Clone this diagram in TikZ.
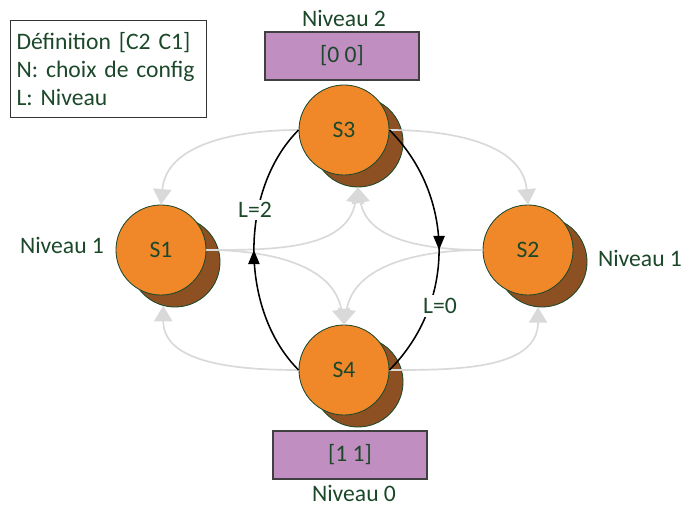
\documentclass[tikz,border=0pt]{standalone}
\usepackage{fontspec}
\setmainfont{Carlito}
\usetikzlibrary{arrows.meta,decorations.markings}
\definecolor{txtgreen}{RGB}{28,72,42}
\definecolor{stateorange}{RGB}{240,136,42}
\definecolor{statebrown}{RGB}{140,80,35}
\definecolor{boxpurple}{RGB}{192,142,192}
\definecolor{arrowgray}{RGB}{217,217,217}
\tikzset{
  lbl/.style={text=txtgreen, font=\fontsize{16.8}{20}\selectfont},
  state/.style={circle, draw=txtgreen, line width=0.6pt, fill=stateorange, minimum size=2.25cm, inner sep=0pt, lbl},
  stateshadow/.style={circle, draw=txtgreen, line width=0.6pt, fill=statebrown, minimum size=2.25cm, inner sep=0pt},
  levelbox/.style={draw=black!75, line width=0.9pt, fill=boxpurple, minimum width=3.85cm, minimum height=1.2cm, lbl},
  grayarrow/.style={draw=arrowgray, line width=1.2pt, -{Triangle[width=13pt,length=11pt]}},
  levelarrow/.style={black, line width=1.1pt, postaction={decorate},
    decoration={markings, mark=at position 0.5 with {\arrow{Triangle[width=8pt,length=10pt]}}}},
}
\begin{document}
\begin{tikzpicture}[x=0.025cm, y=0.025cm]
\useasboundingbox (0,0) rectangle (681,505);
% Legend
\node[lbl, draw=black!80, line width=0.8pt, anchor=north west, align=left, text width=4.6cm,
  inner xsep=0.15cm, minimum height=2.425cm] (legend) at (10,485)
  {Définition [C2 C1]\\N: choix de config\\L: Niveau};
% Level boxes
\node[levelbox] (top) at (342,449) {[0 0]};
\node[lbl] (lvl2) at (344,487) {Niveau 2};
\node[levelbox] (bottom) at (350,50) {[1 1]};
\node[lbl] (lvl0) at (354,12) {Niveau 0};
% States with their shadows
\node[stateshadow] (s3b) at (358,363) {};
\node[stateshadow] (s1b) at (175,243) {};
\node[stateshadow] (s2b) at (542,243) {};
\node[stateshadow] (s4b) at (358,123) {};
\node[state] (s3) at (344,375) {S3};
\node[state] (s1) at (161,255) {S1};
\node[state] (s2) at (528,255) {S2};
\node[state] (s4) at (344,135) {S4};
\node[lbl] (lvl1a) at (62,260) {Niveau 1};
\node[lbl] (lvl1b) at (640,247) {Niveau 1};
% Gray transitions
\draw[grayarrow] (s3.west) to[out=180,in=85] (s1.north);
\draw[grayarrow] (s3.east) to[out=0,in=95] (s2.north);
\draw[grayarrow] (s1.east) to[out=0,in=-100] (s3b.south);
\draw[grayarrow] (s1.east) to[out=0,in=100] (s4.north);
\draw[grayarrow] (s2.west) to[out=180,in=-80] (s3b.south);
\draw[grayarrow] (s2.west) to[out=180,in=80] (s4.north);
\draw[grayarrow] (s4.west) to[out=180,in=-90] (s1b.-105);
\draw[grayarrow] (s4.east) to[out=0,in=-90] (s2b.-95);
% Level changes
\draw[levelarrow] (s4.west) to[out=135,in=-135,looseness=0.9] (s3.west);
\draw[levelarrow] (s3.east) to[out=-45,in=45,looseness=1.0] (s4.east);
\node[lbl, fill=white, inner sep=2pt] (l2) at (255,295) {L=2};
\node[lbl, fill=white, inner sep=2pt] (l0) at (440,199) {L=0};
\end{tikzpicture}
\end{document}
